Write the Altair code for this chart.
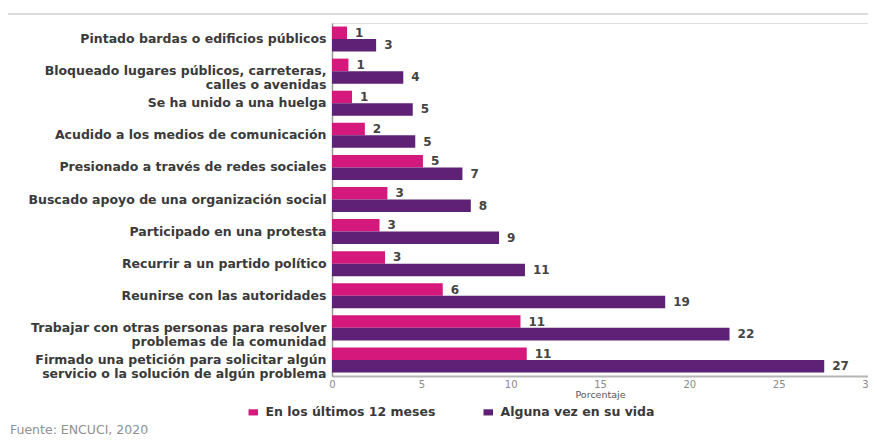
import altair as alt
import pandas as pd

categories = [
    "Pintado bardas o edificios públicos",
    "Bloqueado lugares públicos, carreteras,|calles o avenidas",
    "Se ha unido a una huelga",
    "Acudido a los medios de comunicación",
    "Presionado a través de redes sociales",
    "Buscado apoyo de una organización social",
    "Participado en una protesta",
    "Recurrir a un partido político",
    "Reunirse con las autoridades",
    "Trabajar con otras personas para resolver|problemas de la comunidad",
    "Firmado una petición para solicitar algún|servicio o la solución de algún problema",
]
series = ["En los últimos 12 meses", "Alguna vez en su vida"]
ultimos_12 = [0.84, 0.92, 1.12, 1.84, 5.09, 3.1, 2.66, 2.97, 6.2, 10.55, 10.9]
alguna_vez = [2.47, 3.99, 4.52, 4.66, 7.3, 7.77, 9.35, 10.8, 18.65, 22.25, 27.55]
labels_12 = ["1", "1", "1", "2", "5", "3", "3", "3", "6", "11", "11"]
labels_vida = ["3", "4", "5", "5", "7", "8", "9", "11", "19", "22", "27"]
colors = ["#D4187C", "#5E2176"]
source_text = "Fuente: ENCUCI, 2020"

rows = []
for i, c in enumerate(categories):
    rows.append({"cat": c, "serie": series[0], "valor": ultimos_12[i], "etiqueta": labels_12[i]})
    rows.append({"cat": c, "serie": series[1], "valor": alguna_vez[i], "etiqueta": labels_vida[i]})
df = pd.DataFrame(rows)

FONT = "DejaVu Sans"

y_enc = alt.Y(
    "cat:N",
    sort=categories,
    title=None,
    scale=alt.Scale(paddingInner=0.22, paddingOuter=0.11),
    axis=alt.Axis(
        labelExpr="split(datum.label, '|')",
        labelFont=FONT,
        labelFontSize=12.5,
        labelFontWeight="bold",
        labelColor="#3a3a3a",
        labelPadding=6,
        labelLineHeight=14,
        ticks=False,
        domainColor="#9a9a9a",
        domainWidth=1.5,
        labelLimit=400,
    ),
)
x_enc = alt.X(
    "valor:Q",
    title="Porcentaje",
    scale=alt.Scale(domain=[0, 30], nice=False),
    axis=alt.Axis(
        values=[0, 5, 10, 15, 20, 25, 30],
        grid=False,
        ticks=False,
        labelFont=FONT,
        labelFontSize=10,
        labelColor="#8a8a8a",
        labelPadding=3,
        domainColor="#b5b5b5",
        domainWidth=2,
        titleFont=FONT,
        titleFontSize=9.5,
        titleFontWeight="normal",
        titleColor="#555555",
        titlePadding=0,
        labelFlush=False,
    ),
)
yoff = alt.YOffset("serie:N", sort=series)

bars = alt.Chart(df).mark_bar().encode(
    y=y_enc,
    x=x_enc,
    yOffset=yoff,
    color=alt.Color(
        "serie:N",
        sort=series,
        scale=alt.Scale(domain=series, range=colors),
        legend=alt.Legend(
            title=None,
            orient="none",
            direction="horizontal",
            legendX=-85,
            legendY=383,
            symbolType="M-1,-0.65H1V0.65H-1Z",
            symbolSize=90,
            symbolStrokeWidth=0,
            labelFont=FONT,
            labelFontSize=12.5,
            labelFontWeight="bold",
            labelColor="#3a3a3a",
            labelOffset=6,
            labelLimit=400,
            columnPadding=46,
        ),
    ),
)

text = alt.Chart(df).mark_text(
    align="left", baseline="middle", dx=8, font=FONT, fontSize=12,
    fontWeight="bold", color="#444444",
).encode(
    y=alt.Y("cat:N", sort=categories),
    x=alt.X("valor:Q"),
    yOffset=yoff,
    text="etiqueta:N",
)

top_line = alt.Chart(pd.DataFrame({"a": [0]})).mark_rule(color="#d0d0d0", strokeWidth=1.5).encode(
    x=alt.value(-330), x2=alt.value(545), y=alt.value(-9)
)

src = alt.Chart(pd.DataFrame({"t": [source_text]})).mark_text(
    align="left", baseline="middle", font=FONT, fontSize=12.5, color="#909090"
).encode(x=alt.value(-322), y=alt.value(407), text="t:N")

chart = alt.layer(top_line, bars, text, src).properties(
    width=536,
    height=353,
    padding={"left": 324, "top": 15, "right": 0, "bottom": 60},
    autosize=alt.AutoSizeParams(type="none"),
).configure_view(stroke=None).configure(background="white")

chart.save("out.html", embed_options={"renderer": "svg", "actions": False})
